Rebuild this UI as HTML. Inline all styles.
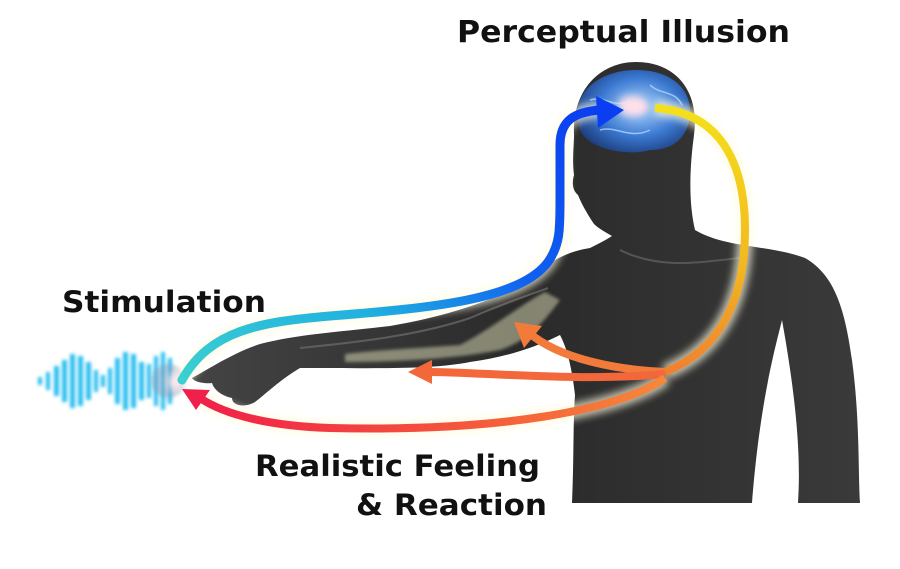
<!DOCTYPE html>
<html><head><meta charset="utf-8"><style>
html,body{margin:0;padding:0;background:#fff;width:900px;height:569px;overflow:hidden}
svg{display:block}
text{font-family:"DejaVu Sans","Liberation Sans",sans-serif;font-weight:bold;fill:#111}
</style></head><body>
<svg width="900" height="569" viewBox="0 0 900 569" xmlns="http://www.w3.org/2000/svg">
<defs>
<linearGradient id="body" x1="0" y1="0" x2="1" y2="0">
<stop offset="0" stop-color="#444"/><stop offset="0.5" stop-color="#2a2a2a"/><stop offset="1" stop-color="#3a3a3a"/>
</linearGradient>
<linearGradient id="blue" x1="0" y1="1" x2="1" y2="0">
<stop offset="0" stop-color="#3cd0d0"/><stop offset="0.35" stop-color="#20b0e0"/><stop offset="0.6" stop-color="#1060f0"/><stop offset="1" stop-color="#0a3ef0"/>
</linearGradient>
<linearGradient id="yel" x1="0" y1="0" x2="0" y2="1">
<stop offset="0" stop-color="#f4e01a"/><stop offset="0.6" stop-color="#f2b820"/><stop offset="1" stop-color="#f08030"/>
</linearGradient>
<linearGradient id="red" x1="0" y1="0" x2="1" y2="0">
<stop offset="0" stop-color="#f0204a"/><stop offset="0.6" stop-color="#f55a3a"/><stop offset="1" stop-color="#f5883a"/>
</linearGradient>
<radialGradient id="brain" cx="0.55" cy="0.45" r="0.6">
<stop offset="0" stop-color="#f8d8e0"/><stop offset="0.2" stop-color="#8ab8f0"/><stop offset="0.6" stop-color="#3a78d0"/><stop offset="1" stop-color="#1e3f80"/>
</radialGradient>
<filter id="glow" x="-50%" y="-50%" width="200%" height="200%"><feGaussianBlur stdDeviation="4"/></filter>
<filter id="soft" x="-20%" y="-20%" width="140%" height="140%"><feGaussianBlur stdDeviation="1.5"/></filter>
</defs>

<path fill="url(#body)" d="M612,236 C605,232 598,228 594,224 C588,215 582,205 578,195 C572,190 572,182 574,175 C572,160 574,145 574,135 C572,90 600,62 636,62 C675,62 700,90 694,135 C690,165 688,200 695,230 C725,248 770,245 805,258 C835,275 845,310 852,360 C860,420 858,470 860,503 L798,503 C800,470 800,420 782,320 C776,345 760,400 752,503 L572,503 C574,460 573,420 575,395 C572,370 568,350 560,335 C530,350 500,358 470,362 C430,370 370,368 300,368 C280,380 268,392 255,402 C245,408 232,406 232,398 C222,396 214,390 212,383 C205,384 194,382 192,378 C210,368 235,352 260,344 C300,334 340,332 390,326 C450,316 500,298 530,280 C548,262 565,252 590,248 C598,244 606,240 612,236 Z"/>
<path d="M300,348 C360,342 420,335 470,318 C500,305 520,298 548,288" stroke="#666" stroke-width="2" fill="none" opacity="0.8"/>
<path d="M345,362 C400,362 460,358 500,350 C530,340 545,320 560,300 L545,292 C520,305 490,330 460,345 C420,348 380,350 345,354 Z" fill="#f2f2c8" opacity="0.45" filter="url(#soft)"/>
<path d="M620,250 C660,270 700,262 740,258" stroke="#555" stroke-width="2" fill="none"/>

<path d="M578,118 C574,92 600,70 636,70 C670,70 692,88 690,115 C688,135 676,150 650,150 C630,156 600,150 588,140 C580,134 578,126 578,118 Z" fill="url(#brain)"/>
<path d="M590,100 C605,95 615,110 630,100 M650,85 C660,95 675,90 682,105 M600,130 C615,125 630,140 650,130" stroke="#bfe0ff" stroke-width="1.5" fill="none" opacity="0.7"/>
<ellipse cx="632" cy="106" rx="14" ry="10" fill="#ffe0ea" filter="url(#glow)"/>

<g fill="#2cc0f0" filter="url(#soft)">
<rect x="38" y="377" width="4" height="8"/><rect x="46" y="372" width="4" height="18"/><rect x="54" y="366" width="5" height="30"/>
<rect x="62" y="360" width="5" height="42"/><rect x="70" y="354" width="5" height="54"/><rect x="78" y="356" width="5" height="50"/>
<rect x="86" y="362" width="5" height="38"/><rect x="94" y="370" width="4" height="22"/><rect x="101" y="375" width="4" height="12"/>
<rect x="108" y="368" width="4" height="26"/><rect x="115" y="358" width="5" height="46"/><rect x="123" y="352" width="5" height="58"/>
<rect x="131" y="354" width="5" height="54"/><rect x="139" y="362" width="5" height="38"/><rect x="147" y="364" width="4" height="34"/>
<rect x="154" y="356" width="4" height="50"/><rect x="161" y="352" width="4" height="58"/><rect x="168" y="358" width="4" height="46"/>
</g>
<circle cx="168" cy="381" r="17" fill="#8898b8" opacity="0.45" filter="url(#soft)"/>
<circle cx="176" cy="382" r="8" fill="#ffe8ee" filter="url(#glow)"/>

<g stroke="#fffbe0" stroke-width="16" fill="none" opacity="0.7" filter="url(#glow)">
<path d="M182,380 C210,330 260,322 330,316 C430,308 520,300 548,262 C560,245 560,230 560,200 L560,145 C560,120 575,112 600,110"/>
<path d="M655,108 C718,112 745,160 745,230 C745,300 720,350 665,372"/>
<path d="M665,378 C620,410 500,432 330,428 C270,426 225,415 200,398"/>
</g>

<path d="M182,380 C210,330 260,322 330,316 C430,308 520,300 548,262 C560,245 560,230 560,200 L560,145 C560,120 575,112 600,110" stroke="url(#blue)" stroke-width="9" fill="none" stroke-linecap="round"/>
<polygon points="596,96 624,110 598,128" fill="#0a3ef0"/>
<path d="M655,108 C718,112 745,160 745,230 C745,300 720,350 665,372" stroke="url(#yel)" stroke-width="8" fill="none"/>
<path d="M665,372 C620,370 560,360 528,332" stroke="#f27a3a" stroke-width="8" fill="none"/>
<polygon points="514,322 542,326 524,348" fill="#f27a3a"/>
<path d="M665,374 C580,382 480,372 428,372" stroke="#f2683a" stroke-width="8" fill="none"/>
<polygon points="408,372 432,360 432,384" fill="#f2683a"/>
<path d="M665,378 C620,410 500,432 330,428 C270,426 225,415 200,398" stroke="url(#red)" stroke-width="8" fill="none"/>
<polygon points="182,389 210,390 196,410" fill="#f0204a"/>

<text x="457" y="42" font-size="30" textLength="333" lengthAdjust="spacingAndGlyphs">Perceptual Illusion</text>
<text x="62" y="312" font-size="29" textLength="204" lengthAdjust="spacingAndGlyphs">Stimulation</text>
<text x="255" y="476" font-size="29" textLength="285" lengthAdjust="spacingAndGlyphs">Realistic Feeling</text>
<text x="356" y="515" font-size="29" textLength="191" lengthAdjust="spacingAndGlyphs">&amp; Reaction</text>
</svg>
</body></html>
